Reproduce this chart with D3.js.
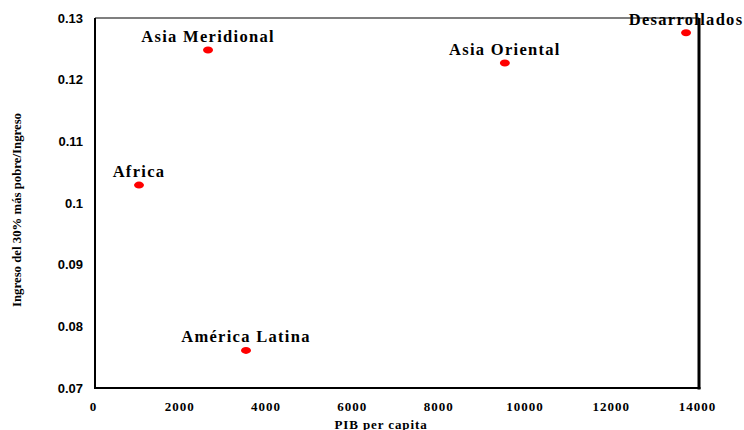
<html>
<head>
    <script src="https://d3js.org/d3.v7.min.js"></script>
    <style>
        body { margin: 0; background: #fff; }
    </style>
</head>
<body>
    <svg id="svg" width="744" height="430"></svg>
    <script>
        // regions and their values (GDP per capita, income share of poorest 30%)
        const regions = ["Africa", "Asia Meridional", "América Latina", "Asia Oriental", "Desarrollados"];
        const pib = [1020, 2620, 3500, 9500, 13700];
        const share = [0.1029, 0.1248, 0.0761, 0.1227, 0.1276];
        const xTicks = [0, 2000, 4000, 6000, 8000, 10000, 12000, 14000];
        const yTicks = [0.07, 0.08, 0.09, 0.1, 0.11, 0.12, 0.13];

        const svg = d3.select("#svg");
        const margin = { top: 18, right: 45, bottom: 42, left: 95 };
        const width = +svg.attr("width");
        const height = +svg.attr("height");
        const chartWidth = width - margin.left - margin.right;
        const chartHeight = height - margin.top - margin.bottom;

        const xScale = d3.scaleLinear().domain([0, 14000]).range([0, chartWidth]);
        const yScale = d3.scaleLinear().domain([0.07, 0.13]).range([chartHeight, 0]);

        const chart = svg.append("g")
            .attr("transform", `translate(${margin.left},${margin.top})`);

        // frame: thin top, heavier left/bottom/right
        chart.append("line").attr("x1", 0).attr("x2", chartWidth).attr("y1", 0).attr("y2", 0)
            .style("stroke", "#000").style("stroke-width", 1.2);
        chart.append("line").attr("x1", 0).attr("x2", 0).attr("y1", 0).attr("y2", chartHeight)
            .style("stroke", "#000").style("stroke-width", 2);
        chart.append("line").attr("x1", chartWidth).attr("x2", chartWidth).attr("y1", 0).attr("y2", chartHeight + 1.5)
            .style("stroke", "#000").style("stroke-width", 3);
        chart.append("line").attr("x1", -1).attr("x2", chartWidth + 1.5).attr("y1", chartHeight).attr("y2", chartHeight)
            .style("stroke", "#000").style("stroke-width", 2.2);

        // y axis labels
        const yAxis = chart.append("g")
            .call(d3.axisLeft(yScale).tickValues(yTicks).tickSize(0).tickPadding(12).tickFormat(d => String(+d.toFixed(2))));
        yAxis.select(".domain").remove();
        yAxis.selectAll("text")
            .style("font-family", "'Liberation Sans', Arial, sans-serif")
            .style("font-weight", "bold")
            .style("font-size", "13px")
            .style("fill", "#000");

        // x axis labels
        const xAxis = chart.append("g")
            .attr("transform", `translate(0,${chartHeight})`)
            .call(d3.axisBottom(xScale).tickValues(xTicks).tickSize(0).tickPadding(14).tickFormat(d3.format("d")));
        xAxis.select(".domain").remove();
        xAxis.selectAll("text")
            .attr("dx", -2)
            .style("font-family", "'Liberation Serif', 'Times New Roman', serif")
            .style("font-weight", "bold")
            .style("font-size", "13px")
            .style("letter-spacing", "1px")
            .style("fill", "#000");

        const points = regions.map((r, i) => ({ name: r, x: pib[i], y: share[i] }));

        chart.selectAll("ellipse.pt").data(points)
            .join("ellipse")
            .attr("class", "pt")
            .attr("cx", d => xScale(d.x))
            .attr("cy", d => yScale(d.y))
            .attr("rx", 5)
            .attr("ry", 3.5)
            .style("fill", "#ff0000");

        chart.selectAll("text.lbl").data(points)
            .join("text")
            .attr("class", "lbl")
            .attr("x", d => xScale(d.x))
            .attr("y", d => yScale(d.y) - 8)
            .style("text-anchor", "middle")
            .style("font-family", "'Liberation Serif', 'Times New Roman', serif")
            .style("font-weight", "bold")
            .style("font-size", "16.5px")
            .style("letter-spacing", "1.3px")
            .text(d => d.name);

        // axis titles
        svg.append("text")
            .attr("x", 381)
            .attr("y", 428.5)
            .style("text-anchor", "middle")
            .style("font-family", "'Liberation Serif', 'Times New Roman', serif")
            .style("font-weight", "bold")
            .style("font-size", "13px")
            .style("letter-spacing", "0.9px")
            .text("PIB per capita");

        svg.append("text")
            .attr("transform", "translate(21,210) rotate(-90)")
            .style("text-anchor", "middle")
            .style("font-family", "'Liberation Serif', 'Times New Roman', serif")
            .style("font-weight", "bold")
            .style("font-size", "12px")
            .attr("textLength", 194)
            .attr("lengthAdjust", "spacingAndGlyphs")
            .text("Ingreso del 30% más pobre/Ingreso");
    </script>
</body>
</html>
